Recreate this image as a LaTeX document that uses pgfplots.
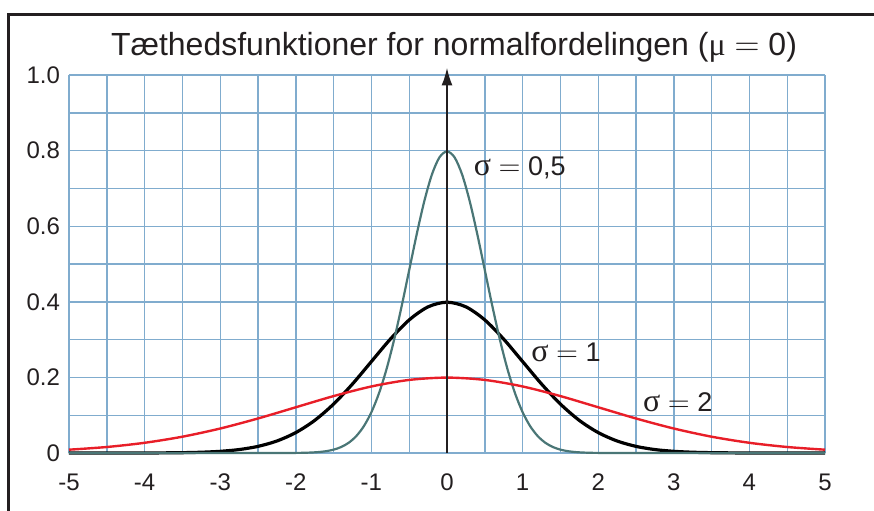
\documentclass[border=0pt]{standalone}
\usepackage{fontspec}
\setmainfont{Liberation Sans}
\newfontfamily\greekfont{Liberation Serif}
\usepackage{pgfplots}
\pgfplotsset{compat=1.18}
\usetikzlibrary{arrows.meta}
\definecolor{gridblue}{RGB}{128,172,206}
\definecolor{tealc}{RGB}{74,118,118}
\definecolor{redc}{RGB}{232,30,40}
\definecolor{txt}{RGB}{35,31,32}
\newcommand{\sig}{{\greekfont\fontsize{16}{16}\selectfont σ}}
\begin{document}
\begin{tikzpicture}
\useasboundingbox (-34.5pt,-28.5pt) rectangle (402.5pt,226.5pt);
\begin{axis}[
  at={(0,0)}, anchor=south west,
  scale only axis, width=378pt, height=189pt,
  xmin=-5, xmax=5, ymin=0, ymax=1,
  xtick={-5,-4,-3,-2,-1,0,1,2,3,4,5},
  xticklabels={-5,-4,-3,-2,-1,0,1,2,3,4,5},
  ytick={0,0.2,0.4,0.6,0.8,1.0},
  yticklabels={0,0.2,0.4,0.6,0.8,1.0},
  minor xtick={-4.5,-3.5,-2.5,-1.5,-0.5,0.5,1.5,2.5,3.5,4.5},
  minor ytick={0.1,0.3,0.5,0.7,0.9},
  grid=both,
  major grid style={gridblue, line width=0.7pt},
  minor grid style={gridblue, line width=0.7pt},
  axis line style={draw=none},
  major tick length=0pt, minor tick length=0pt,
  tick style={draw=none},
  ticklabel style={font=\fontsize{12}{14}\selectfont, text=txt},
  xticklabel style={yshift=-7pt},
  yticklabel style={xshift=-1pt},
  clip=false,
]
\addplot[black, line width=1.6pt, smooth] coordinates {
(-5,0.0000015) (-4.5,0.000016) (-4,0.000134) (-3.75,0.000353) (-3.5,0.000873) (-3.25,0.002029)
(-3,0.004432) (-2.75,0.009094) (-2.5,0.017528) (-2.25,0.031740) (-2,0.053991) (-1.75,0.086277)
(-1.5,0.129518) (-1.25,0.182649) (-1,0.241971) (-0.75,0.301137) (-0.5,0.352065) (-0.25,0.386668)
(0,0.398942)
(0.25,0.386668) (0.5,0.352065) (0.75,0.301137) (1,0.241971) (1.25,0.182649) (1.5,0.129518)
(1.75,0.086277) (2,0.053991) (2.25,0.031740) (2.5,0.017528) (2.75,0.009094) (3,0.004432)
(3.25,0.002029) (3.5,0.000873) (3.75,0.000353) (4,0.000134) (4.5,0.000016) (5,0.0000015)
};
\addplot[tealc, line width=1.1pt, smooth] coordinates {
(-5,0) (-4,0) (-3,0) (-2.5,0.000003) (-2,0.000268) (-1.9,0.000584) (-1.8,0.001224) (-1.7,0.002464)
(-1.6,0.004768) (-1.5,0.008864) (-1.4,0.015831) (-1.3,0.027165) (-1.2,0.044789) (-1.1,0.070949)
(-1,0.107982) (-0.9,0.157901) (-0.8,0.221842) (-0.7,0.299455) (-0.6,0.388372) (-0.5,0.483941)
(-0.4,0.579383) (-0.3,0.666449) (-0.2,0.736540) (-0.1,0.782085) (0,0.797885)
(0.1,0.782085) (0.2,0.736540) (0.3,0.666449) (0.4,0.579383) (0.5,0.483941) (0.6,0.388372)
(0.7,0.299455) (0.8,0.221842) (0.9,0.157901) (1,0.107982) (1.1,0.070949) (1.2,0.044789)
(1.3,0.027165) (1.4,0.015831) (1.5,0.008864) (1.6,0.004768) (1.7,0.002464) (1.8,0.001224)
(1.9,0.000584) (2,0.000268) (2.5,0.000003) (3,0) (4,0) (5,0)
};
\addplot[redc, line width=1.2pt, smooth] coordinates {
(-5,0.008764) (-4.5,0.015870) (-4,0.026995) (-3.5,0.043139) (-3,0.064759) (-2.5,0.091325)
(-2,0.120985) (-1.5,0.150569) (-1,0.176033) (-0.5,0.193334) (0,0.199471)
(0.5,0.193334) (1,0.176033) (1.5,0.150569) (2,0.120985) (2.5,0.091325) (3,0.064759)
(3.5,0.043139) (4,0.026995) (4.5,0.015870) (5,0.008764)
};
\draw[txt, line width=1pt, -{Latex[length=9pt,width=5.5pt]}] (axis cs:0,0) -- (axis cs:0,1.02);
\node[anchor=west, text=txt, font=\fontsize{13.5}{15}\selectfont, inner sep=0pt] at (axis cs:0.35,0.754) {\sig{} $=$ 0,5};
\node[anchor=west, text=txt, font=\fontsize{13.5}{15}\selectfont, inner sep=0pt] at (axis cs:1.11,0.265) {\sig{} $=$ 1};
\node[anchor=west, text=txt, font=\fontsize{13.5}{15}\selectfont, inner sep=0pt] at (axis cs:2.59,0.135) {\sig{} $=$ 2};
\end{axis}
\node[text=txt, font=\fontsize{16}{19}\selectfont, inner sep=0pt] at (192.5pt,203pt) {Tæthedsfunktioner for normalfordelingen ({\greekfont μ} $=$ 0)};
\draw[txt, line width=1.5pt] (-30pt,-30pt) -- (-30pt,219.5pt) -- (403pt,219.5pt);
\end{tikzpicture}
\end{document}
